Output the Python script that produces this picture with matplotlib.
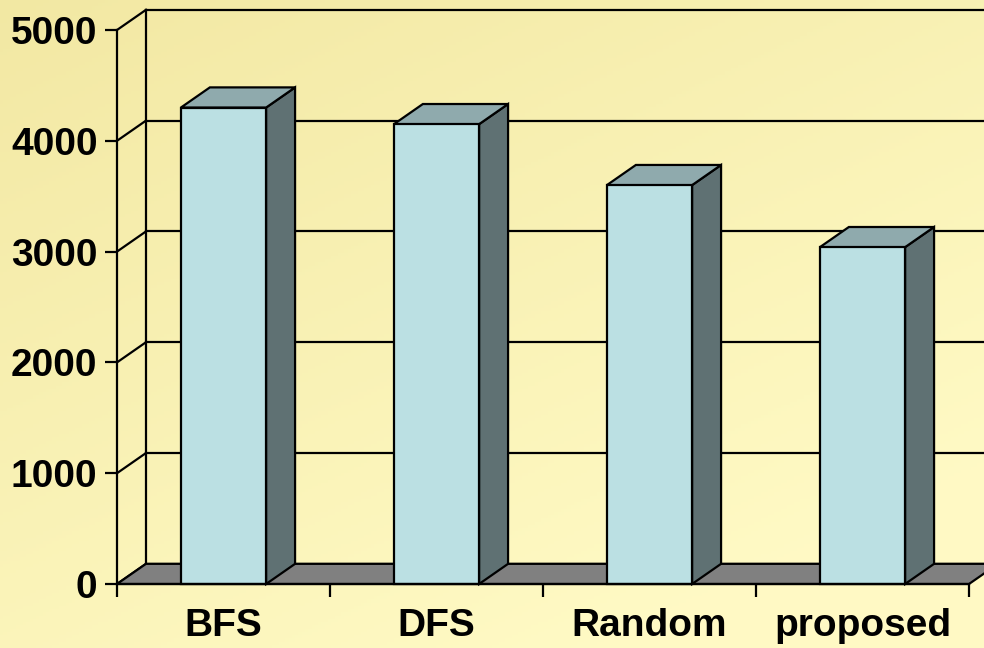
import numpy as np
import matplotlib.pyplot as plt
from matplotlib.patches import Polygon

categories = ['BFS', 'DFS', 'Random', 'proposed']
values = [4300, 4150, 3600, 3040]
yticks = [0, 1000, 2000, 3000, 4000, 5000]

# 3d look: depth offset of the back wall, in data units
DX = 0.136
DY = 182
BAR_W = 0.4

front_col = '#BBE0E3'
top_col = '#8FAAAD'
side_col = '#5F7173'
floor_col = '#808080'

plt.rcParams['font.family'] = ['Liberation Sans', 'DejaVu Sans']

fig = plt.figure(figsize=(9.84, 6.48), dpi=100)

# yellow background gradient
bg = fig.add_axes([0, 0, 1, 1], zorder=0)
yy, xx = np.mgrid[0:1:200j, 0:1:300j]
t = np.clip(0.5 * xx + 0.7 * yy, 0, 1)
c0 = np.array([0.95, 0.91, 0.64])
c1 = np.array([1.00, 0.98, 0.77])
img = c0[None, None, :] * (1 - t[..., None]) + c1[None, None, :] * t[..., None]
bg.imshow(img, extent=[0, 1, 0, 1], aspect='auto', origin='upper')
bg.axis('off')

W, H = 984, 648
left, right, bottom, top = 117, 969, 584, 30
ax = fig.add_axes([left / W, (H - bottom) / H, (right - left) / W, (bottom - top) / H], zorder=1)
ax.patch.set_alpha(0)
ax.set_xlim(0, len(categories))
ax.set_ylim(0, 5000)

ymax = yticks[-1]
xmax = len(categories)
lw = 1.6

# back wall gridlines and side wall diagonals
for v in yticks:
    ax.plot([DX, xmax + DX + 0.2], [v + DY, v + DY], color='black', lw=lw, clip_on=False, zorder=1)
    ax.plot([0, DX], [v, v + DY], color='black', lw=lw, clip_on=False, zorder=1)
ax.plot([DX, DX], [DY, ymax + DY], color='black', lw=lw, clip_on=False, zorder=1)

# floor
floor = Polygon([(0, 0), (xmax, 0), (xmax + DX, DY), (DX, DY)], closed=True,
                facecolor=floor_col, edgecolor='black', lw=lw, clip_on=False, zorder=2)
ax.add_patch(floor)

# bars: side, top, then front face
xs = np.arange(len(categories)) + 0.5
for x, v in zip(xs, values):
    x0, x1 = x - BAR_W / 2, x + BAR_W / 2
    side = Polygon([(x1, 0), (x1 + DX, DY), (x1 + DX, v + DY), (x1, v)], closed=True,
                   facecolor=side_col, edgecolor='black', lw=lw, clip_on=False, zorder=3)
    topf = Polygon([(x0, v), (x1, v), (x1 + DX, v + DY), (x0 + DX, v + DY)], closed=True,
                   facecolor=top_col, edgecolor='black', lw=lw, clip_on=False, zorder=3)
    ax.add_patch(side)
    ax.add_patch(topf)
ax.bar(xs, values, width=BAR_W, color=front_col, edgecolor='black', lw=lw, zorder=4, clip_on=False)

# axes
for s in ['top', 'right']:
    ax.spines[s].set_visible(False)
for s in ['left', 'bottom']:
    ax.spines[s].set_linewidth(lw)
    ax.spines[s].set_zorder(5)

ax.set_yticks(yticks)
ax.set_yticklabels([str(v) for v in yticks], fontsize=28, fontweight='bold')
ax.tick_params(axis='y', length=9, width=lw, pad=5)

ax.set_xticks(range(len(categories) + 1))
ax.set_xticklabels([''] * (len(categories) + 1))
ax.tick_params(axis='x', which='major', length=9, width=lw)
ax.set_xticks(xs, minor=True)
ax.set_xticklabels(categories, minor=True, fontsize=28, fontweight='bold')
ax.tick_params(axis='x', which='minor', length=0, pad=17)

fig.savefig('out.png', dpi=100)
